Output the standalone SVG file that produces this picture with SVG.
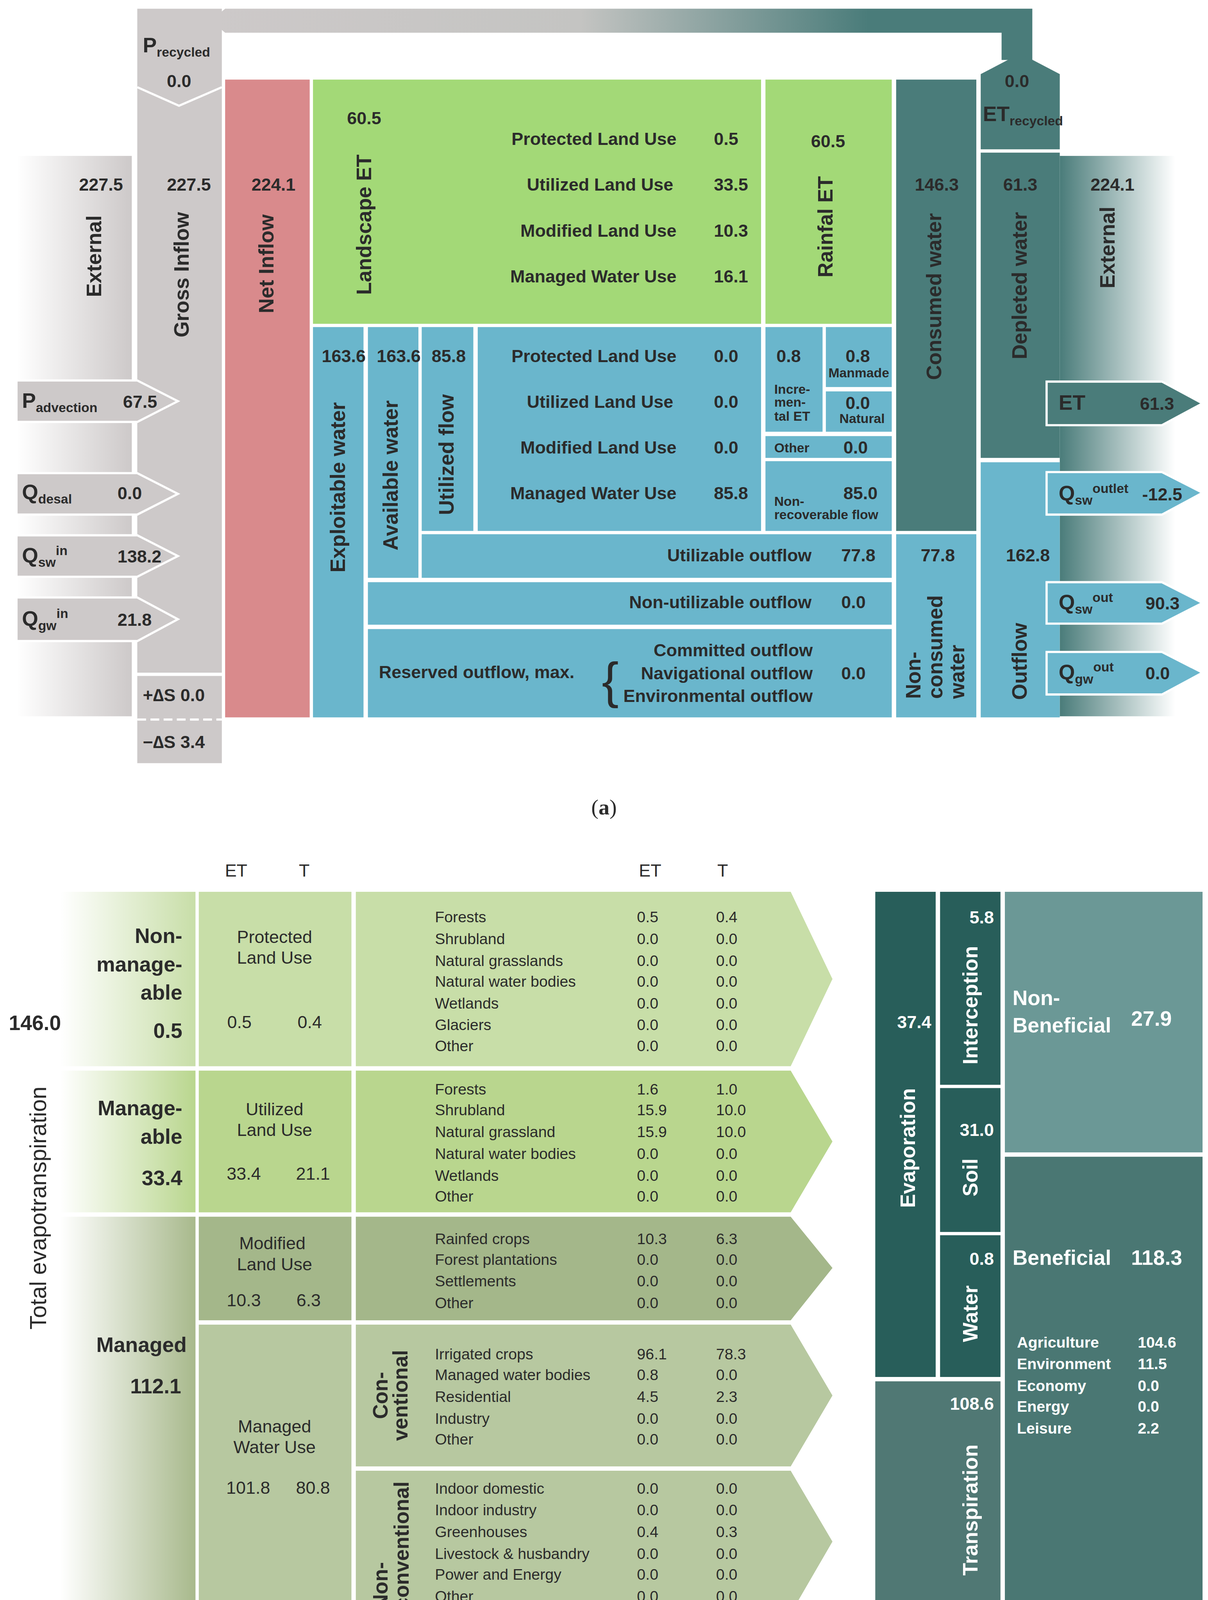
<svg xmlns="http://www.w3.org/2000/svg" width="3092" height="4376" viewBox="0 0 3092 4376">
<defs>
<linearGradient id="gTop" x1="0" x2="1" y1="0" y2="0"><stop offset="0" stop-color="#cdc9c9"/><stop offset="0.45" stop-color="#c4c4c2"/><stop offset="0.8" stop-color="#4a7c7a"/><stop offset="1" stop-color="#4a7c7a"/></linearGradient>
<linearGradient id="gExtL" x1="0" x2="1" y1="0" y2="0"><stop offset="0" stop-color="#ffffff"/><stop offset="1" stop-color="#cdc9c9"/></linearGradient>
<linearGradient id="gExtR" x1="0" x2="1" y1="0" y2="0"><stop offset="0" stop-color="#4a7c7a"/><stop offset="1" stop-color="#ffffff"/></linearGradient>
<linearGradient id="gB1" x1="0" x2="1"><stop offset="0" stop-color="#fff"/><stop offset="1" stop-color="#c8dea8"/></linearGradient>
<linearGradient id="gB2" x1="0" x2="1"><stop offset="0" stop-color="#fff"/><stop offset="1" stop-color="#b9d68e"/></linearGradient>
<linearGradient id="gB3" x1="0" x2="1"><stop offset="0" stop-color="#fff"/><stop offset="1" stop-color="#a8b98c"/></linearGradient>
</defs>
<style>
text{font-family:"Liberation Sans",Arial,sans-serif;fill:#2b2b2b}
.b{font-weight:bold;font-size:16px}
.v{font-weight:bold;font-size:19px}
.n{font-size:14px}
.m{font-size:16px}
.w{fill:#fff}
.gray{fill:#cdc9c9}
.blue{fill:#6ab6cc}
.green{fill:#a3d977}
.teal{fill:#4a7c7a}
.cap{font-family:"Liberation Serif",serif;font-size:20px}
.arr{stroke:#fff;stroke-width:2}
</style>
<rect width="3092" height="4376" fill="#fff"/>
<g transform="scale(2.811 2.791)">
<!-- (a) -->
<g id="recycle">
<path d="M205,8 H940 V55 H912 V30 H205 L192,19 Z" fill="url(#gTop)"/>
</g>
<g id="extL"><rect x="15" y="143" width="105" height="514" fill="url(#gExtL)"/></g>
<g id="extR"><rect x="965" y="143" width="105" height="514" fill="url(#gExtR)"/></g>
<g id="gross">
<rect x="125" y="8" width="77" height="609" class="gray"/>
<polyline points="125,80 163,97 202,80" fill="none" stroke="#fff" stroke-width="2"/>
<text x="130" y="48" class="v">P<tspan font-size="12" dy="4">recycled</tspan></text>
<text x="163" y="80" class="b" text-anchor="middle">0.0</text>
<text x="192" y="175" class="b" text-anchor="end">227.5</text>
<text transform="translate(172,252) rotate(-90)" class="v" text-anchor="middle">Gross Inflow</text>
<rect x="125" y="620" width="77" height="80" class="gray"/>
<line x1="125" y1="660" x2="202" y2="660" stroke="#fff" stroke-width="2" stroke-dasharray="8,4"/>
<text x="130" y="643" class="b">+∆S  0.0</text>
<text x="130" y="686" class="b">−∆S  3.4</text>
</g>
<text x="112" y="175" class="b" text-anchor="end">227.5</text>
<text transform="translate(92,235) rotate(-90)" class="v" text-anchor="middle">External</text>
<g id="inArrows">
<path d="M15,349 H125 L162,368 L125,387 H15 Z" class="gray arr"/>
<text x="20" y="374" class="v">P<tspan font-size="12" dy="4">advection</tspan></text><text x="112" y="374" class="b">67.5</text>
<path d="M15,434 H125 L162,453 L125,472 H15 Z" class="gray arr"/>
<text x="20" y="458" class="v">Q<tspan font-size="12" dy="4">desal</tspan></text><text x="107" y="458" class="b">0.0</text>
<path d="M15,491 H125 L162,510 L125,529 H15 Z" class="gray arr"/>
<text x="20" y="516" class="v">Q<tspan font-size="12" dy="4">sw</tspan><tspan font-size="12" dy="-11">in</tspan></text><text x="107" y="516" class="b">138.2</text>
<path d="M15,548 H125 L162,568 L125,588 H15 Z" class="gray arr"/>
<text x="20" y="574" class="v">Q<tspan font-size="12" dy="4">gw</tspan><tspan font-size="12" dy="-11">in</tspan></text><text x="107" y="574" class="b">21.8</text>
</g>
<g id="net">
<rect x="205" y="73" width="77" height="585" fill="#d98a8c"/>
<text x="269" y="175" class="b" text-anchor="end">224.1</text>
<text transform="translate(249,242) rotate(-90)" class="v" text-anchor="middle">Net Inflow</text>
</g>
<g id="landscapeET">
<rect x="285" y="73" width="408" height="224" class="green"/>
<text x="316" y="114" class="b">60.5</text>
<text transform="translate(338,206) rotate(-90)" class="v" text-anchor="middle">Landscape ET</text>
<text x="616" y="133" class="b" text-anchor="end">Protected Land Use</text><text x="650" y="133" class="b">0.5</text>
<text x="613" y="175" class="b" text-anchor="end">Utilized Land Use</text><text x="650" y="175" class="b">33.5</text>
<text x="616" y="217" class="b" text-anchor="end">Modified Land Use</text><text x="650" y="217" class="b">10.3</text>
<text x="616" y="259" class="b" text-anchor="end">Managed Water Use</text><text x="650" y="259" class="b">16.1</text>
</g>
<g id="rainfallET">
<rect x="697" y="73" width="115" height="224" class="green"/>
<text x="754" y="135" class="b" text-anchor="middle">60.5</text>
<text transform="translate(758,208) rotate(-90)" class="v" text-anchor="middle">Rainfal ET</text>
</g>
<g id="exploitable"><rect x="285" y="300" width="46" height="358" class="blue"/>
<text x="293" y="332" class="b">163.6</text>
<text transform="translate(314,447) rotate(-90)" class="v" text-anchor="middle">Exploitable water</text></g>
<g id="available"><rect x="335" y="300" width="46" height="230" class="blue"/>
<text x="343" y="332" class="b">163.6</text>
<text transform="translate(362,436) rotate(-90)" class="v" text-anchor="middle">Available water</text></g>
<g id="utilized"><rect x="384" y="300" width="47" height="187" class="blue"/>
<text x="393" y="332" class="b">85.8</text>
<text transform="translate(413,417) rotate(-90)" class="v" text-anchor="middle">Utilized flow</text></g>
<g id="blueLand"><rect x="435" y="300" width="258" height="187" class="blue"/>
<text x="616" y="332" class="b" text-anchor="end">Protected Land Use</text><text x="650" y="332" class="b">0.0</text>
<text x="613" y="374" class="b" text-anchor="end">Utilized Land Use</text><text x="650" y="374" class="b">0.0</text>
<text x="616" y="416" class="b" text-anchor="end">Modified Land Use</text><text x="650" y="416" class="b">0.0</text>
<text x="616" y="458" class="b" text-anchor="end">Managed Water Use</text><text x="650" y="458" class="b">85.8</text></g>
<g id="incremental"><rect x="697" y="300" width="52" height="96" class="blue"/>
<text x="707" y="332" class="b">0.8</text>
<text x="705" y="361" font-size="12" font-weight="bold">Incre-</text>
<text x="705" y="373" font-size="12" font-weight="bold">men-</text>
<text x="705" y="386" font-size="12" font-weight="bold">tal ET</text></g>
<g id="manmade"><rect x="752" y="300" width="60" height="55" class="blue"/>
<text x="781" y="332" class="b" text-anchor="middle">0.8</text>
<text x="782" y="346" font-size="12" font-weight="bold" text-anchor="middle">Manmade</text></g>
<g id="natural"><rect x="752" y="359" width="60" height="37" class="blue"/>
<text x="781" y="375" class="b" text-anchor="middle">0.0</text>
<text x="785" y="388" font-size="12" font-weight="bold" text-anchor="middle">Natural</text></g>
<g id="other"><rect x="697" y="400" width="115" height="20" class="blue"/>
<text x="705" y="415" font-size="12" font-weight="bold">Other</text><text x="768" y="416" class="b">0.0</text></g>
<g id="nonrec"><rect x="697" y="423" width="115" height="64" class="blue"/>
<text x="768" y="458" class="b">85.0</text>
<text x="705" y="464" font-size="12" font-weight="bold">Non-</text>
<text x="705" y="476" font-size="12" font-weight="bold">recoverable flow</text></g>
<g id="utilizable"><rect x="384" y="490" width="428" height="40" class="blue"/>
<text x="739" y="515" class="b" text-anchor="end">Utilizable outflow</text><text x="766" y="515" class="b">77.8</text></g>
<g id="nonutil"><rect x="335" y="534" width="477" height="39" class="blue"/>
<text x="739" y="558" class="b" text-anchor="end">Non-utilizable outflow</text><text x="766" y="558" class="b">0.0</text></g>
<g id="reserved"><rect x="335" y="577" width="477" height="81" class="blue"/>
<text x="345" y="622" class="b">Reserved outflow, max.</text>
<text x="548" y="640" font-size="46" font-family="Liberation Serif,serif">{</text>
<text x="740" y="602" class="b" text-anchor="end">Committed outflow</text>
<text x="740" y="623" class="b" text-anchor="end">Navigational outflow</text>
<text x="740" y="644" class="b" text-anchor="end">Environmental outflow</text>
<text x="766" y="623" class="b">0.0</text></g>
<g id="consumed"><rect x="816" y="73" width="73" height="414" class="teal"/>
<text x="853" y="175" class="b" text-anchor="middle">146.3</text>
<text transform="translate(857,272) rotate(-90)" class="v" text-anchor="middle">Consumed water</text></g>
<g id="etrecycled"><path d="M893,68 L929,49 L965,68 V137 H893 Z" class="teal"/>
<text x="926" y="80" class="b" text-anchor="middle">0.0</text>
<text x="895" y="111" class="v">ET<tspan font-size="12" dy="4">recycled</tspan></text></g>
<g id="depleted"><rect x="893" y="140" width="72" height="280" class="teal"/>
<text x="929" y="175" class="b" text-anchor="middle">61.3</text>
<text transform="translate(935,262) rotate(-90)" class="v" text-anchor="middle">Depleted water</text></g>
<g id="nonconsumed"><rect x="816" y="490" width="73" height="168" class="blue"/>
<text x="854" y="515" class="b" text-anchor="middle">77.8</text>
<text transform="translate(838,641) rotate(-90)" class="v">Non-</text>
<text transform="translate(858,641) rotate(-90)" class="v">consumed</text>
<text transform="translate(878,641) rotate(-90)" class="v">water</text></g>
<g id="outflow"><rect x="893" y="424" width="72" height="234" class="blue"/>
<text x="936" y="515" class="b" text-anchor="middle">162.8</text>
<text transform="translate(935,642) rotate(-90)" class="v">Outflow</text></g>
<text x="1013" y="175" class="b" text-anchor="middle">224.1</text>
<text transform="translate(1015,227) rotate(-90)" class="v" text-anchor="middle">External</text>
<g id="outArrows">
<path d="M953,350 H1058 L1095,370 L1058,390 H953 Z" class="teal arr"/>
<text x="964" y="376" class="v">ET</text><text x="1038" y="376" class="b">61.3</text>
<path d="M953,433 H1058 L1095,452 L1058,472 H953 Z" class="blue arr"/>
<text x="964" y="459" class="v">Q<tspan font-size="12" dy="4">sw</tspan><tspan font-size="12" dy="-11">outlet</tspan></text><text x="1040" y="459" class="b">-12.5</text>
<path d="M953,534 H1058 L1095,553 L1058,572 H953 Z" class="blue arr"/>
<text x="964" y="559" class="v">Q<tspan font-size="12" dy="4">sw</tspan><tspan font-size="12" dy="-11">out</tspan></text><text x="1043" y="559" class="b">90.3</text>
<path d="M953,598 H1058 L1095,617 L1058,637 H953 Z" class="blue arr"/>
<text x="964" y="623" class="v">Q<tspan font-size="12" dy="4">gw</tspan><tspan font-size="12" dy="-11">out</tspan></text><text x="1043" y="623" class="b">0.0</text>
</g>
<text x="550" y="747" class="cap" text-anchor="middle">(<tspan font-weight="bold">a</tspan>)</text>

<!-- (b) -->
<g id="headers">
<text x="215" y="804" class="m" text-anchor="middle">ET</text><text x="277" y="804" class="m" text-anchor="middle">T</text>
<text x="592" y="804" class="m" text-anchor="middle">ET</text><text x="658" y="804" class="m" text-anchor="middle">T</text>
</g>
<g id="leftCol">
<rect x="55" y="818" width="123" height="160" fill="url(#gB1)"/>
<rect x="55" y="982" width="123" height="130" fill="url(#gB2)"/>
<rect x="55" y="1116" width="123" height="364" fill="url(#gB3)"/>
<text x="8" y="945" class="v" font-size="20">146.0</text>
<text transform="translate(42,1108) rotate(-90)" font-size="21" text-anchor="middle">Total evapotranspiration</text>
<text x="166" y="865" class="v" text-anchor="end">Non-</text>
<text x="166" y="891" class="v" text-anchor="end">manage-</text>
<text x="166" y="917" class="v" text-anchor="end">able</text>
<text x="166" y="952" class="v" text-anchor="end">0.5</text>
<text x="166" y="1023" class="v" text-anchor="end">Manage-</text>
<text x="166" y="1049" class="v" text-anchor="end">able</text>
<text x="166" y="1087" class="v" text-anchor="end">33.4</text>
<text x="170" y="1240" class="v" text-anchor="end">Managed</text>
<text x="165" y="1278" class="v" text-anchor="end">112.1</text>
</g>
<g id="protected">
<rect x="181" y="818" width="139" height="160" fill="#c8dea8"/>
<text x="250" y="865" class="m" text-anchor="middle">Protected</text><text x="250" y="884" class="m" text-anchor="middle">Land Use</text>
<text x="218" y="943" class="m" text-anchor="middle">0.5</text><text x="282" y="943" class="m" text-anchor="middle">0.4</text>
</g>
<g id="utilizedLU">
<rect x="181" y="982" width="139" height="130" fill="#b9d68e"/>
<text x="250" y="1023" class="m" text-anchor="middle">Utilized</text><text x="250" y="1042" class="m" text-anchor="middle">Land Use</text>
<text x="222" y="1082" class="m" text-anchor="middle">33.4</text><text x="285" y="1082" class="m" text-anchor="middle">21.1</text>
</g>
<g id="modifiedLU">
<rect x="181" y="1116" width="139" height="95" fill="#a4b78a"/>
<text x="248" y="1146" class="m" text-anchor="middle">Modified</text><text x="250" y="1165" class="m" text-anchor="middle">Land Use</text>
<text x="222" y="1198" class="m" text-anchor="middle">10.3</text><text x="281" y="1198" class="m" text-anchor="middle">6.3</text>
</g>
<g id="managedWU">
<rect x="181" y="1215" width="139" height="265" fill="#b7c8a0"/>
<text x="250" y="1314" class="m" text-anchor="middle">Managed</text><text x="250" y="1333" class="m" text-anchor="middle">Water Use</text>
<text x="226" y="1370" class="m" text-anchor="middle">101.8</text><text x="285" y="1370" class="m" text-anchor="middle">80.8</text>
</g>
<g id="row1">
<path d="M324,818 H720 L758,898 L720,978 H324 Z" fill="#c8dea8"/>
<text class="n"><tspan x="396" y="846">Forests</tspan><tspan x="396" y="866">Shrubland</tspan><tspan x="396" y="886">Natural grasslands</tspan><tspan x="396" y="905">Natural water bodies</tspan><tspan x="396" y="925">Wetlands</tspan><tspan x="396" y="945">Glaciers</tspan><tspan x="396" y="964">Other</tspan></text>
<text class="n"><tspan x="580" y="846">0.5</tspan><tspan x="580" y="866">0.0</tspan><tspan x="580" y="886">0.0</tspan><tspan x="580" y="905">0.0</tspan><tspan x="580" y="925">0.0</tspan><tspan x="580" y="945">0.0</tspan><tspan x="580" y="964">0.0</tspan></text>
<text class="n"><tspan x="652" y="846">0.4</tspan><tspan x="652" y="866">0.0</tspan><tspan x="652" y="886">0.0</tspan><tspan x="652" y="905">0.0</tspan><tspan x="652" y="925">0.0</tspan><tspan x="652" y="945">0.0</tspan><tspan x="652" y="964">0.0</tspan></text>
</g>
<g id="row2">
<path d="M324,982 H720 L758,1047 L720,1112 H324 Z" fill="#b9d68e"/>
<text class="n"><tspan x="396" y="1004">Forests</tspan><tspan x="396" y="1023">Shrubland</tspan><tspan x="396" y="1043">Natural grassland</tspan><tspan x="396" y="1063">Natural water bodies</tspan><tspan x="396" y="1083">Wetlands</tspan><tspan x="396" y="1102">Other</tspan></text>
<text class="n"><tspan x="580" y="1004">1.6</tspan><tspan x="580" y="1023">15.9</tspan><tspan x="580" y="1043">15.9</tspan><tspan x="580" y="1063">0.0</tspan><tspan x="580" y="1083">0.0</tspan><tspan x="580" y="1102">0.0</tspan></text>
<text class="n"><tspan x="652" y="1004">1.0</tspan><tspan x="652" y="1023">10.0</tspan><tspan x="652" y="1043">10.0</tspan><tspan x="652" y="1063">0.0</tspan><tspan x="652" y="1083">0.0</tspan><tspan x="652" y="1102">0.0</tspan></text>
</g>
<g id="row3">
<path d="M324,1116 H720 L758,1163 L720,1211 H324 Z" fill="#a4b78a"/>
<text class="n"><tspan x="396" y="1141">Rainfed crops</tspan><tspan x="396" y="1160">Forest plantations</tspan><tspan x="396" y="1180">Settlements</tspan><tspan x="396" y="1200">Other</tspan></text>
<text class="n"><tspan x="580" y="1141">10.3</tspan><tspan x="580" y="1160">0.0</tspan><tspan x="580" y="1180">0.0</tspan><tspan x="580" y="1200">0.0</tspan></text>
<text class="n"><tspan x="652" y="1141">6.3</tspan><tspan x="652" y="1160">0.0</tspan><tspan x="652" y="1180">0.0</tspan><tspan x="652" y="1200">0.0</tspan></text>
</g>
<g id="row4">
<path d="M324,1215 H720 L758,1280 L720,1345 H324 Z" fill="#b7c8a0"/>
<text transform="translate(353,1280) rotate(-90)" class="v" font-size="17" text-anchor="middle">Con-</text>
<text transform="translate(371,1280) rotate(-90)" class="v" font-size="17" text-anchor="middle">ventional</text>
<text class="n"><tspan x="396" y="1247">Irrigated crops</tspan><tspan x="396" y="1266">Managed water bodies</tspan><tspan x="396" y="1286">Residential</tspan><tspan x="396" y="1306">Industry</tspan><tspan x="396" y="1325">Other</tspan></text>
<text class="n"><tspan x="580" y="1247">96.1</tspan><tspan x="580" y="1266">0.8</tspan><tspan x="580" y="1286">4.5</tspan><tspan x="580" y="1306">0.0</tspan><tspan x="580" y="1325">0.0</tspan></text>
<text class="n"><tspan x="652" y="1247">78.3</tspan><tspan x="652" y="1266">0.0</tspan><tspan x="652" y="1286">2.3</tspan><tspan x="652" y="1306">0.0</tspan><tspan x="652" y="1325">0.0</tspan></text>
</g>
<g id="row5">
<path d="M324,1349 H720 L758,1414 L720,1480 H324 Z" fill="#b7c8a0"/>
<text transform="translate(353,1476) rotate(-90)" class="v" font-size="17">Non-</text>
<text transform="translate(372,1476) rotate(-90)" class="v" font-size="17">conventional</text>
<text class="n"><tspan x="396" y="1370">Indoor domestic</tspan><tspan x="396" y="1390">Indoor industry</tspan><tspan x="396" y="1410">Greenhouses</tspan><tspan x="396" y="1430">Livestock &amp; husbandry</tspan><tspan x="396" y="1449">Power and Energy</tspan><tspan x="396" y="1469">Other</tspan></text>
<text class="n"><tspan x="580" y="1370">0.0</tspan><tspan x="580" y="1390">0.0</tspan><tspan x="580" y="1410">0.4</tspan><tspan x="580" y="1430">0.0</tspan><tspan x="580" y="1449">0.0</tspan><tspan x="580" y="1469">0.0</tspan></text>
<text class="n"><tspan x="652" y="1370">0.0</tspan><tspan x="652" y="1390">0.0</tspan><tspan x="652" y="1410">0.3</tspan><tspan x="652" y="1430">0.0</tspan><tspan x="652" y="1449">0.0</tspan><tspan x="652" y="1469">0.0</tspan></text>
</g>
<g id="evaporation"><rect x="797" y="818" width="55" height="445" fill="#285e5a"/>
<text x="848" y="943" class="b w" text-anchor="end">37.4</text>
<text transform="translate(833,1053) rotate(-90)" class="v w" text-anchor="middle">Evaporation</text></g>
<g id="interception"><rect x="856" y="818" width="55" height="177" fill="#285e5a"/>
<text x="905" y="847" class="b w" text-anchor="end">5.8</text>
<text transform="translate(890,922) rotate(-90)" class="v w" text-anchor="middle">Interception</text></g>
<g id="soil"><rect x="856" y="998" width="55" height="132" fill="#285e5a"/>
<text x="905" y="1042" class="b w" text-anchor="end">31.0</text>
<text transform="translate(890,1080) rotate(-90)" class="v w" text-anchor="middle">Soil</text></g>
<g id="water"><rect x="856" y="1133" width="55" height="130" fill="#285e5a"/>
<text x="905" y="1160" class="b w" text-anchor="end">0.8</text>
<text transform="translate(890,1205) rotate(-90)" class="v w" text-anchor="middle">Water</text></g>
<g id="transpiration"><rect x="797" y="1267" width="114" height="213" fill="#507874"/>
<text x="905" y="1293" class="b w" text-anchor="end">108.6</text>
<text transform="translate(890,1385) rotate(-90)" class="v w" text-anchor="middle">Transpiration</text></g>
<g id="nonbeneficial"><rect x="915" y="818" width="180" height="239" fill="#6b9896"/>
<text x="922" y="922" class="v w">Non-</text><text x="922" y="947" class="v w">Beneficial</text>
<text x="1030" y="941" class="v w">27.9</text></g>
<g id="beneficial"><rect x="915" y="1061" width="180" height="419" fill="#4a7773"/>
<text x="922" y="1160" class="v w">Beneficial</text><text x="1030" y="1160" class="v w">118.3</text>
<text class="n w" font-weight="bold"><tspan x="926" y="1236">Agriculture</tspan><tspan x="926" y="1256">Environment</tspan><tspan x="926" y="1276">Economy</tspan><tspan x="926" y="1295">Energy</tspan><tspan x="926" y="1315">Leisure</tspan></text>
<text class="n w" font-weight="bold"><tspan x="1036" y="1236">104.6</tspan><tspan x="1036" y="1256">11.5</tspan><tspan x="1036" y="1276">0.0</tspan><tspan x="1036" y="1295">0.0</tspan><tspan x="1036" y="1315">2.2</tspan></text></g>
<text x="550" y="1557" class="cap" text-anchor="middle">(<tspan font-weight="bold">b</tspan>)</text>
</g>
</svg>
